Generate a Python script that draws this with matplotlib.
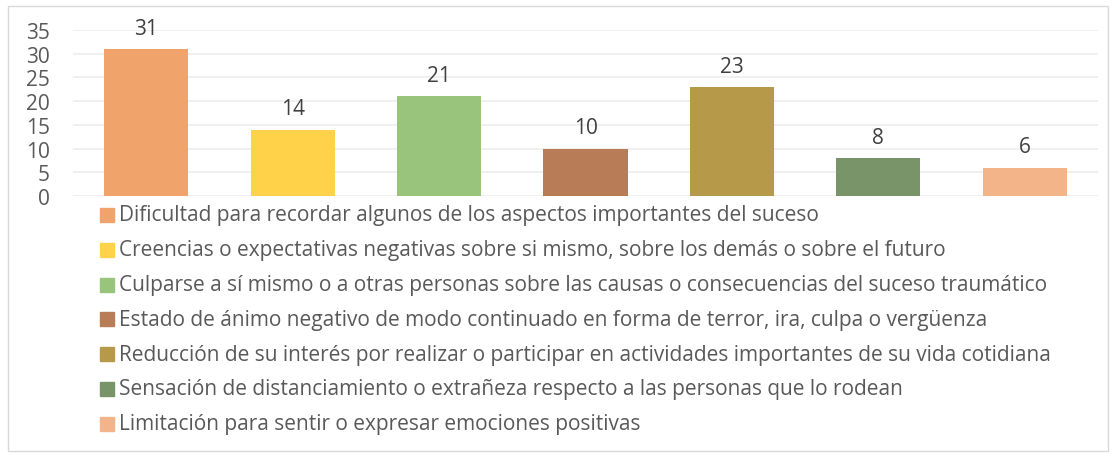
import matplotlib
matplotlib.use("Agg")
import matplotlib.pyplot as plt
import matplotlib.patches as mpatches

categorias = [
    "Dificultad para recordar algunos de los aspectos importantes del suceso",
    "Creencias o expectativas negativas sobre si mismo, sobre los demás o sobre el futuro",
    "Culparse a sí mismo o a otras personas sobre las causas o consecuencias del suceso traumático",
    "Estado de ánimo negativo de modo continuado en forma de terror, ira, culpa o vergüenza",
    "Reducción de su interés por realizar o participar en actividades importantes de su vida cotidiana",
    "Sensación de distanciamiento o extrañeza respecto a las personas que lo rodean",
    "Limitación para sentir o expresar emociones positivas",
]
valores = [31, 14, 21, 10, 23, 8, 6]
colores = ["#F0A46C", "#FFD24A", "#98C47B", "#B87C56", "#B69A4A", "#789468", "#F4B48A"]
yticks = [0, 5, 10, 15, 20, 25, 30, 35]

plt.rcParams['font.family'] = ['Open Sans', 'DejaVu Sans']
W, H = 1117, 456
fig = plt.figure(figsize=(W / 100, H / 100), dpi=100)

# light border round the chart
fig.patches.append(mpatches.Rectangle((8 / W, 1 - 452 / H), 1100 / W, 445 / H,
                                      transform=fig.transFigure, fill=False,
                                      edgecolor="#D9D9D9", linewidth=1))

ax = fig.add_axes([73 / W, 1 - 197 / H, (1098 - 73) / W, (197 - 31) / H])
x = range(len(valores))
ax.bar(x, valores, width=0.574, color=colores, zorder=3)
for i, v in enumerate(valores):
    ax.annotate(str(v), (i, v), xytext=(0, 15), textcoords="offset points",
                ha="center", va="center", fontsize=15, color="#404040")

ax.set_xlim(-0.5, len(valores) - 0.5)
ax.set_ylim(0, 35)
ax.set_yticks(yticks)
ax.set_xticks([])
ax.grid(axis="y", color="#EEEEEE", linewidth=1.2, zorder=0)
for s in ax.spines.values():
    s.set_visible(False)
ax.tick_params(axis="y", length=0, labelsize=15, labelcolor="#595959", pad=16.5)

# legend drawn as one column below the bars
y0 = 216
for i, (c, lab) in enumerate(zip(colores, categorias)):
    yy = 1 - (y0 + i * 34.8) / H
    fig.patches.append(mpatches.Rectangle((100 / W, yy - 7 / H), 14 / W, 14 / H,
                                          transform=fig.transFigure, color=c))
    fig.text(119 / W, yy, lab, fontsize=15, color="#595959", va="center", ha="left")

fig.savefig("out.png", dpi=100)
